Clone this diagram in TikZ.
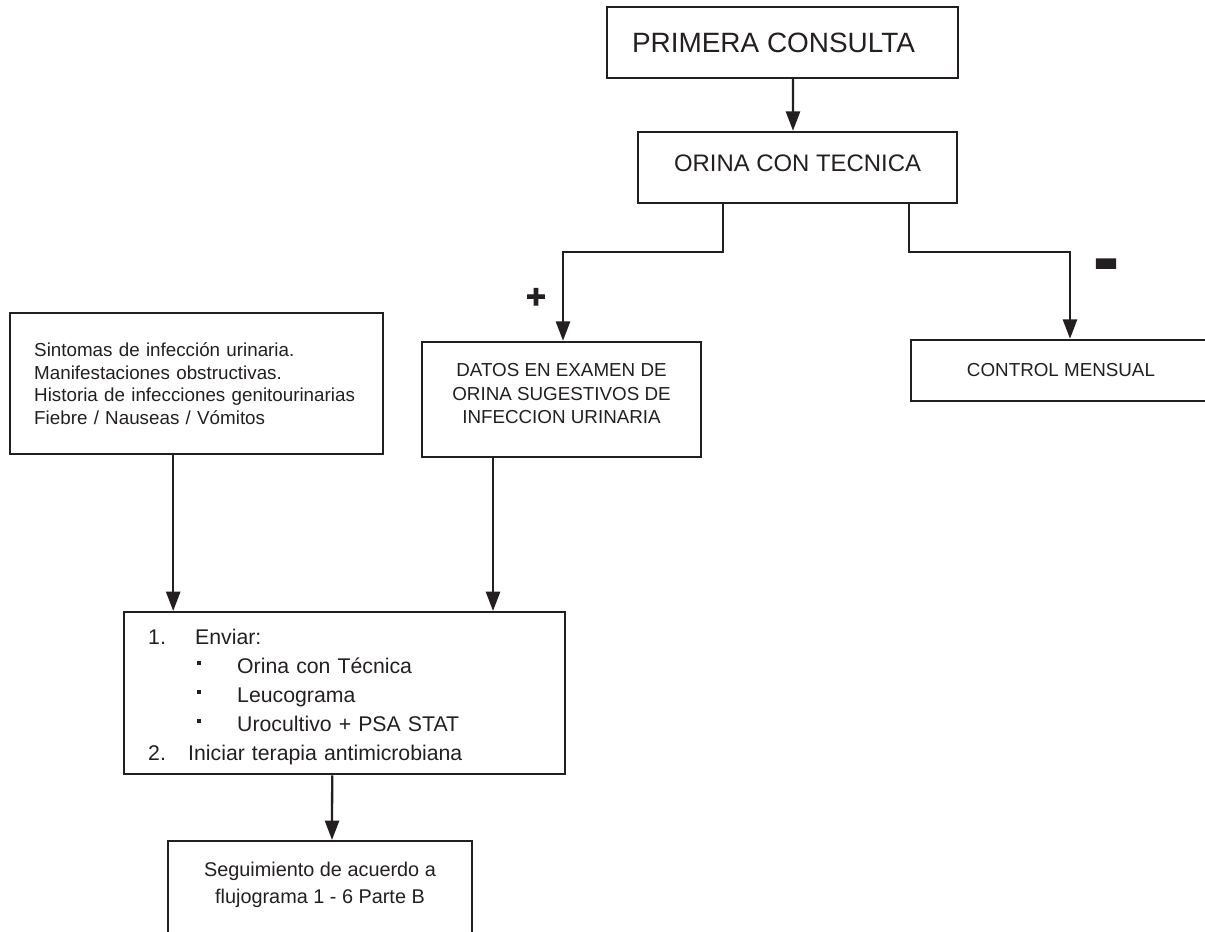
\documentclass[tikz,border=0pt]{standalone}
\usepackage{fontspec}
\setmainfont{Liberation Sans}
\newfontfamily\heavyfont[FakeBold=2.5]{Liberation Sans}
\usetikzlibrary{positioning, arrows.meta, calc}
\definecolor{linecol}{HTML}{231F20}
\newcommand{\bul}{\raisebox{5pt}{\rule{2pt}{2pt}}}

\begin{document}
\begin{tikzpicture}[
    x=0.02cm, y=-0.02cm,
    % Node styles
    box/.style={
        rectangle, draw=linecol, line width=1.4pt,
        text=linecol, align=center, inner sep=0pt
    },
    listbox/.style={
        box, align=left, inner xsep=0.48cm
    },
    % Edge styles
    arr/.style={
        -{Triangle[length=11pt, width=8pt]}, line width=1.3pt, linecol
    },
    % Label styles
    signlbl/.style={
        font=\heavyfont\bfseries, text=linecol, inner sep=0pt
    }
]
\useasboundingbox (0,0) rectangle (1205,932);

% ============ TOP ============
\node[box, minimum width=7.02cm, minimum height=1.42cm,
      font=\fontsize{15.9}{19}\selectfont] (prim) at (782.5,42.5) {PRIMERA CONSULTA\hspace*{0.36cm}};
\node[box, minimum width=6.38cm, minimum height=1.42cm, text depth=5.2pt,
      font=\fontsize{13.6}{16}\selectfont] (orina) at (797.5,167.5) {ORINA CON TECNICA};

% ============ RESULTS ============
\node[box, minimum width=5.58cm, minimum height=2.3cm, text depth=6.6pt,
      font=\fontsize{10.7}{13.3}\selectfont] (datos) at (561.5,399.5)
    {DATOS EN EXAMEN DE\\ORINA SUGESTIVOS DE\\INFECCION URINARIA};
\node[box, minimum width=6cm, minimum height=1.22cm,
      font=\fontsize{10.7}{13}\selectfont] (control) at (1061,370.5) {CONTROL MENSUAL};

\node[signlbl, font=\heavyfont\bfseries\fontsize{19}{19}\selectfont] (mas) at (536,298) {+};
\node[signlbl, font=\heavyfont\bfseries\fontsize{22}{22}\selectfont] (menos) at (1106,273)
    {\scalebox{1}[2.2]{\textendash}};

% ============ CLINIC ============
\node[listbox, anchor=north west, minimum height=2.82cm, text width=6.5cm,
      font=\fontsize{10.7}{12.8}\selectfont] (sint) at (9,312) {
    Sintomas de infección urinaria.\\
    Manifestaciones obstructivas.\\
    Historia de infecciones genitourinarias\\
    Fiebre / Nauseas / Vómitos
};

% ============ ACTIONS ============
\node[listbox, anchor=north west, minimum height=3.24cm, text width=7.86cm,
      font=\fontsize{12.1}{16.4}\selectfont] (enviar) at (123,611) {
    \rule{0pt}{13.2pt}\makebox[0.94cm][l]{1.}Enviar:\\
    \hspace*{0.98cm}\makebox[0.8cm][l]{\bul}Orina con Técnica\\
    \hspace*{0.98cm}\makebox[0.8cm][l]{\bul}Leucograma\\
    \hspace*{0.98cm}\makebox[0.8cm][l]{\bul}Urocultivo + PSA STAT\\
    \makebox[0.8cm][l]{2.}Iniciar terapia antimicrobiana
};

\node[box, anchor=north, minimum width=6.08cm, minimum height=2cm, text depth=9.8pt,
      font=\fontsize{11.3}{15.3}\selectfont] (seg) at (320,840)
    {Seguimiento de acuerdo a\\flujograma 1 - 6 Parte B};

% ============ EDGES ============
\draw[arr] ([xshift=0.21cm]prim.south) -- ([xshift=-0.09cm]orina.north);
\draw[arr] ([xshift=-1.49cm]orina.south) -- ++(0,48) -| ([xshift=0.03cm]datos.north);
\draw[arr] ([xshift=2.23cm]orina.south) -- ++(0,48) -| ([xshift=0.18cm]control.north);
\draw[arr] ([xshift=-0.47cm]sint.south) -- ([xshift=-0.47cm]sint.south |- enviar.north);
\draw[arr] ([xshift=-1.37cm]datos.south) -- ([xshift=-1.37cm]datos.south |- enviar.north);
\draw[arr] ([xshift=-0.25cm]enviar.south) -- ([xshift=0.24cm]seg.north);

\end{tikzpicture}
\end{document}
